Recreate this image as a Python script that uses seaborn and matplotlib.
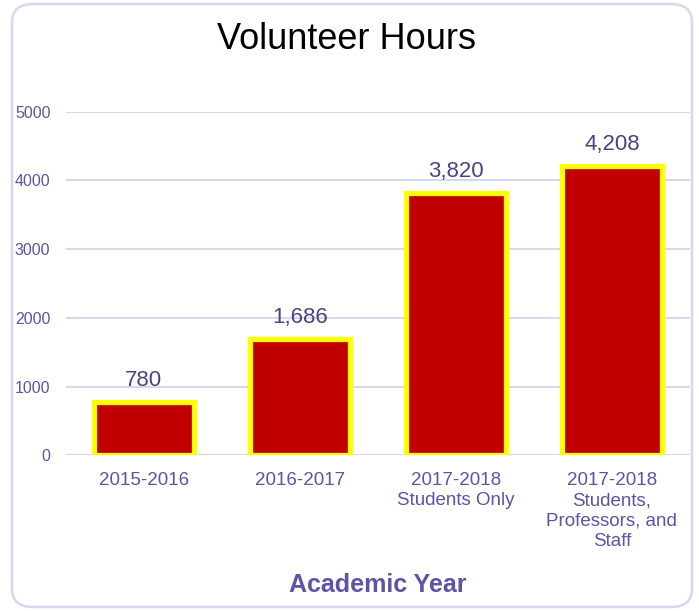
import numpy as np
import pandas as pd
import matplotlib
matplotlib.use("Agg")
import matplotlib.pyplot as plt
from matplotlib.patches import FancyBboxPatch
import seaborn as sns

years = ["2015-2016", "2016-2017", "2017-2018\nStudents Only",
         "2017-2018\nStudents,\nProfessors, and\nStaff"]
hours = [780, 1686, 3820, 4208]
yticks = [0, 1000, 2000, 3000, 4000, 5000]

sns.set_style("white")
plt.rcParams['font.family'] = ['Liberation Sans', 'DejaVu Sans']

purple = "#5c54a4"
grid_col = "#d9d6ec"

df = pd.DataFrame({"year": years, "hours": hours})

fig = plt.figure(figsize=(6.99, 6.11), dpi=100)
ax = fig.add_axes([0.094, 0.255, 0.893, 0.562])

sns.barplot(data=df, x="year", y="hours", color="#c00000", saturation=1,
            edgecolor="#ffff00", linewidth=3.8, width=0.64, ax=ax)

ax.set_ylim(0, 5000)
ax.set_yticks(yticks)
ax.set_yticklabels([str(t) for t in yticks], fontsize=11.5, color=purple)
ax.tick_params(axis="y", length=0, pad=11)
ax.tick_params(axis="x", length=0, pad=12, labelsize=13.5, labelcolor=purple)
for lbl in ax.get_xticklabels():
    lbl.set_linespacing(1.25)
ax.yaxis.grid(True, color=grid_col, linewidth=1.5)
ax.set_axisbelow(True)
for s in ax.spines.values():
    s.set_visible(False)
ax.set_ylabel("")
ax.set_xlabel("Academic Year", fontsize=18, fontweight="bold", color=purple, labelpad=17)

ax.bar_label(ax.containers[0], labels=[f"{v:,}" for v in hours],
             padding=8, fontsize=16, color="#4a4384")

fig.text(0.495, 0.935, "Volunteer Hours", ha="center", va="center",
         fontsize=26, color="black")

border = FancyBboxPatch((12 / 699, 4 / 611), 680 / 699, 603 / 611,
                        boxstyle="round,pad=0,rounding_size=0.03",
                        transform=fig.transFigure, fill=False,
                        edgecolor=grid_col, linewidth=1.8)
fig.patches.append(border)

fig.savefig("out.png", dpi=100)
